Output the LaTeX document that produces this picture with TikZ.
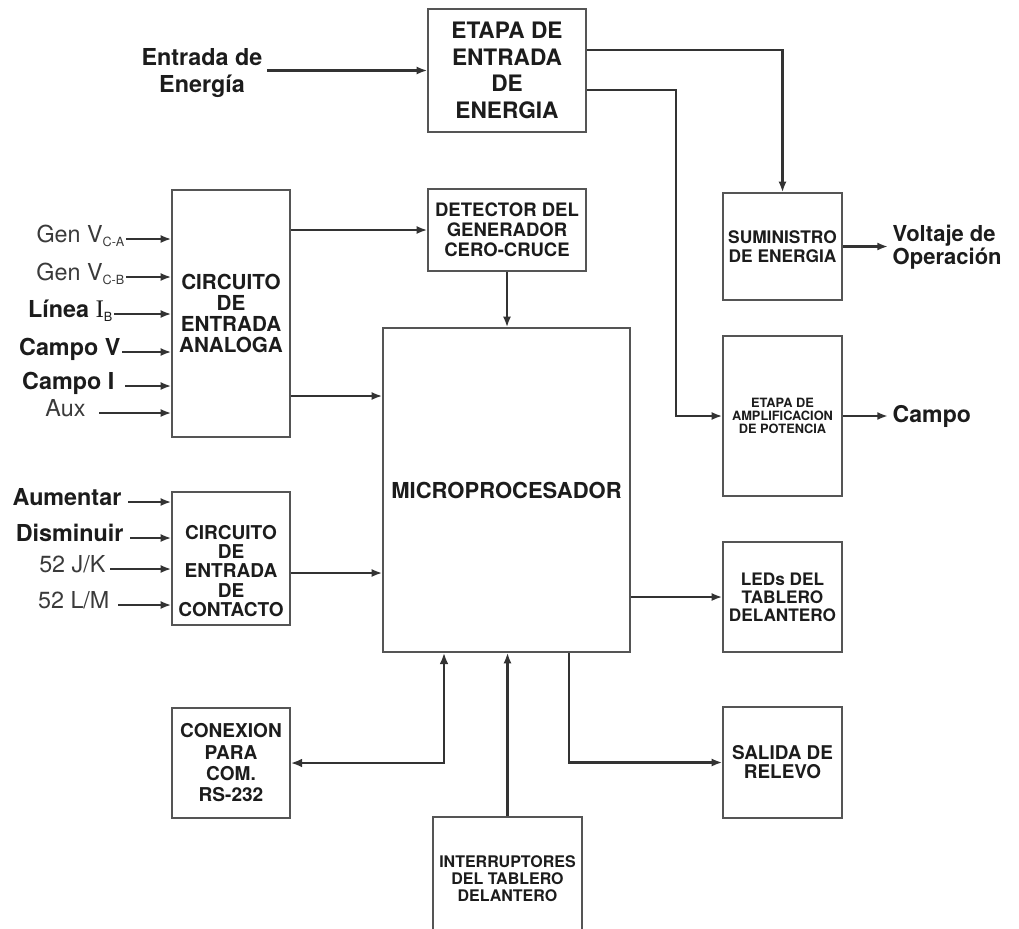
\documentclass[tikz,border=0pt]{standalone}
\usepackage{fontspec}
\setmainfont{TeX Gyre Heros}
\newfontfamily\serifa{Liberation Serif}
\usetikzlibrary{arrows.meta}
\definecolor{linea}{HTML}{333333}
\definecolor{borde}{HTML}{555555}
\definecolor{texto}{HTML}{1C1C1C}
\definecolor{gris}{HTML}{3A3A3A}
\newcommand\letra[2]{\fontsize{#1}{#2}\selectfont}
\newcommand\sub[1]{\raisebox{-3.2pt}{\mdseries\letra{9.5}{9.5}#1}}

\begin{document}
\begin{tikzpicture}[x=0.75pt,y=-0.75pt]
% Styles
\tikzstyle{fleche}=[->,>={Latex[length=8pt,width=6pt]},line width=1.6pt,draw=linea]
\tikzstyle{doble}=[<->,>={Latex[length=8.5pt,width=6.5pt]},line width=2pt,draw=linea]
\tikzstyle{caja}=[draw=borde,line width=1pt,align=center,text=texto,inner sep=1pt]
\tikzstyle{etiq}=[text=texto,inner sep=1pt,anchor=mid east]
% Dimensions
\def\px{0.75pt}
\useasboundingbox (0,0) rectangle (1019,928);
% Cajas
\node[caja,minimum width=158*\px,minimum height=123*\px,font={\bfseries\letra{17}{20}}] (energia) at (507,70.5) {ETAPA DE\\ENTRADA\\DE\\ENERGIA};
\node[caja,minimum width=158*\px,minimum height=82*\px,font={\bfseries\letra{13.9}{15}}] (detector) at (507,230) {DETECTOR DEL\\GENERADOR\\CERO-CRUCE};
\node[caja,minimum width=118*\px,minimum height=247*\px,font={\bfseries\letra{15.5}{15.8}}] (analogica) at (231,313.5) {CIRCUITO\\DE\\ENTRADA\\ANALOGA};
\node[caja,minimum width=118*\px,minimum height=133*\px] (contacto) at (231,558.5) {};
\node[align=center,text=texto,inner sep=0pt,font={\bfseries\letra{14.3}{14.5}}] (contactotxt) at (231,571) {CIRCUITO\\DE\\ENTRADA\\DE\\CONTACTO};
\node[caja,minimum width=118*\px,minimum height=110*\px,font={\bfseries\letra{14.3}{16}}] (conexion) at (231,763) {CONEXION\\PARA\\COM.\\RS-232};
\node[caja,minimum width=247*\px,minimum height=324*\px,font={\bfseries\letra{16.5}{18}}] (micro) at (506.5,490) {MICROPROCESADOR};
\node[caja,minimum width=149*\px,minimum height=123*\px,font={\bfseries\letra{12}{12.8}}] (interruptores) at (507.5,878.5) {INTERRUPTORES\\DEL TABLERO\\DELANTERO};
\node[caja,minimum width=119*\px,minimum height=107*\px,font={\bfseries\letra{13}{14.3}}] (suministro) at (782.5,246.5) {SUMINISTRO\\DE ENERGIA};
\node[caja,minimum width=119*\px,minimum height=160*\px,font={\bfseries\letra{9.6}{9.8}}] (amplif) at (782.5,416) {ETAPA DE\\AMPLIFICACION\\DE POTENCIA};
\node[caja,minimum width=119*\px,minimum height=110*\px,font={\bfseries\letra{12.9}{13.5}}] (leds) at (782.5,597) {LEDs DEL\\TABLERO\\DELANTERO};
\node[caja,minimum width=119*\px,minimum height=111*\px,font={\bfseries\letra{14.2}{14.3}}] (salida) at (782.5,762.5) {SALIDA DE\\RELEVO};
% Textos exteriores
\node[align=center,text=texto,font={\bfseries\letra{17.5}{20}}] (entrada) at (202,73) {Entrada de\\Energía};
\node[align=left,text=texto,anchor=west,font={\bfseries\letra{16.5}{16}}] (voltaje) at (888,247) {Voltaje de\\Operación};
\node[text=texto,anchor=west,font={\bfseries\letra{17.3}{20}}] (campo) at (888,416) {Campo};
% Entradas analogicas
\node[etiq,text=gris,font=\letra{17.5}{20}] (genca) at (126,239) {Gen V\sub{C-A}};
\node[etiq,text=gris,font=\letra{17.5}{20}] (gencb) at (126,277) {Gen V\sub{C-B}};
\node[etiq,font={\bfseries\letra{17.5}{20}}] (lineaib) at (114,314) {Línea {\mdseries\serifa\letra{19}{20}I}\sub{B}};
\node[etiq,font={\bfseries\letra{17.5}{20}}] (campov) at (122,352) {Campo V};
\node[etiq,font={\bfseries\letra{17.5}{20}}] (campoi) at (116,386) {Campo I};
\node[etiq,text=gris,font=\letra{17.5}{20}] (aux) at (87,413) {Aux};
% Entradas de contacto
\node[etiq,font={\bfseries\letra{17.5}{20}}] (aumentar) at (123,502) {Aumentar};
\node[etiq,font={\bfseries\letra{17.5}{20}}] (disminuir) at (125,538) {Disminuir};
\node[etiq,text=gris,font=\letra{17.5}{20}] (jk) at (107,569) {52 J/K};
\node[etiq,text=gris,font=\letra{17.5}{20}] (lm) at (111,605) {52 L/M};
% Arcs
\draw[fleche] (entrada.east |- energia.west) -- (energia.west);
\draw[fleche] (energia.east |- 0,50) -| (suministro.north);
\draw[fleche] (energia.east |- 0,90) -- (676,90) |- (amplif.west);
\draw[fleche] (suministro.east) -- (suministro.east -| voltaje.west);
\draw[fleche] (amplif.east) -- (amplif.east -| campo.west);
\draw[fleche] (genca.mid east) -- (genca.mid east -| analogica.west);
\draw[fleche] (gencb.mid east) -- (gencb.mid east -| analogica.west);
\draw[fleche] (lineaib.mid east) -- (lineaib.mid east -| analogica.west);
\draw[fleche] (campov.mid east) -- (campov.mid east -| analogica.west);
\draw[fleche] ([xshift=9*\px]campoi.mid east) -- (campoi.mid east -| analogica.west);
\draw[fleche] ([xshift=12*\px]aux.mid east) -- (aux.mid east -| analogica.west);
\draw[fleche] ([xshift=5*\px]aumentar.mid east) -- (aumentar.mid east -| contacto.west);
\draw[fleche] ([xshift=5*\px]disminuir.mid east) -- (disminuir.mid east -| contacto.west);
\draw[fleche] ([xshift=3*\px]jk.mid east) -- (jk.mid east -| contacto.west);
\draw[fleche] ([xshift=7*\px]lm.mid east) -- (lm.mid east -| contacto.west);
\draw[fleche] (analogica.east |- detector.west) -- (detector.west);
\draw[fleche] (analogica.east |- 0,396) -- (micro.west |- 0,396);
\draw[fleche] (detector.south) -- (detector.south |- micro.north);
\draw[fleche] (contacto.east |- 0,573) -- (micro.west |- 0,573);
\draw[fleche] (micro.east |- leds.west) -- (leds.west);
\draw[fleche] (micro.south -| 569,0) |- (salida.west);
\draw[doble] (conexion.east) -| (micro.south -| 444,0);
\draw[fleche] (interruptores.north) -- (interruptores.north |- micro.south);
\end{tikzpicture}
\end{document}
